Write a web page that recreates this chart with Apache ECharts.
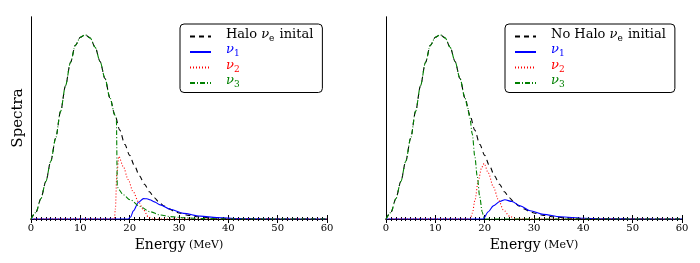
<!DOCTYPE html>
<html><head><meta charset="utf-8">
<script src="https://cdn.jsdelivr.net/npm/echarts@6/dist/echarts.min.js"></script>
<style>html,body{margin:0;padding:0;background:#fff}#c{width:700px;height:263px}</style>
</head><body><div id="c"></div>
<script>
// ---- data ----
const xTicks = [0, 10, 20, 30, 40, 50, 60];

// initial nu_e spectrum (same in both panels)
const initialE = [0,1,2,3,4,5,6,7,8,9,10,11,12,13,14,15,16,17,18,19,20,21,22,23,24,25,26,27,28,29,30,32,34,36,38,40,43,46,50,60];
const initialV = [0,0.033,0.10,0.185,0.285,0.40,0.533,0.66,0.775,0.86,0.90,0.912,0.896,0.85,0.78,0.695,0.60,0.515,0.44,0.37,0.315,0.262,0.213,0.172,0.135,0.105,0.082,0.064,0.05,0.039,0.03,0.018,0.011,0.0065,0.004,0.0022,0.001,0.0003,0,0];

// Halo panel
const haloNu1E = [0,19.7,20.2,20.75,21.8,22.8,23.5,24.1,25,26.2,28.2,30.9,34.3,37.7,42,50,60];
const haloNu1V = [0,0,0.01,0.04,0.083,0.101,0.10,0.095,0.085,0.07,0.048,0.028,0.014,0.007,0.002,0,0];
const haloNu2E = [0,16.9,17.1,17.4,17.8,18.7,19.7,20.7,21.8,22.8,23.8,24.5,60];
const haloNu2V = [0,0,0.05,0.22,0.31,0.26,0.195,0.135,0.085,0.045,0.01,0,0];
const haloNu3E = [0,1,2,3,4,5,6,7,8,9,10,11,12,13,14,15,16,17,17.3,17.5,17.8,18.7,20.1,22.1,24.1,26.2,28.2,31,35,40,60];
const haloNu3V = [0,0.033,0.10,0.185,0.285,0.40,0.533,0.66,0.775,0.86,0.90,0.912,0.896,0.85,0.78,0.695,0.60,0.515,0.50,0.16,0.145,0.12,0.095,0.062,0.036,0.02,0.012,0.006,0.002,0,0];

// No-halo panel
const noHaloNu1E = [0,19.7,20.75,21.75,23.1,24.1,25.5,27.2,29.2,31.9,35.3,40,45,50,60];
const noHaloNu1V = [0,0,0.036,0.065,0.087,0.095,0.087,0.065,0.041,0.023,0.011,0.004,0.001,0,0];
const noHaloNu2E = [0,17.1,17.5,18.05,18.7,19.4,19.9,20.75,21.75,22.8,23.8,25.1,26.3,60];
const noHaloNu2V = [0,0,0.03,0.095,0.19,0.255,0.275,0.227,0.16,0.095,0.045,0.013,0,0];
const noHaloNu3E = [0,1,2,3,4,5,6,7,8,9,10,11,12,13,14,15,16,16.5,17,17.5,18,18.5,19,19.5,19.9,60];
const noHaloNu3V = [0,0.033,0.10,0.185,0.285,0.40,0.533,0.66,0.775,0.86,0.90,0.912,0.896,0.85,0.78,0.695,0.60,0.557,0.50,0.42,0.31,0.21,0.11,0.035,0,0];

const names = {
  halo: 'Halo νe inital',
  noHalo: 'No Halo νe initial',
  n1: 'ν1', n2: 'ν2', n3: 'ν3'
};

// ---- chart ----
const zip = (e, v) => e.map((x, i) => [x, v[i]]);
const FONT = 'DejaVu Serif';
const styles = {
  init: {color: '#000', type: [5, 4]},
  n1: {color: '#0000ff', type: 'solid'},
  n2: {color: '#ff0000', type: [1, 2]},
  n3: {color: '#008000', type: [5, 2, 1, 2]}
};

function mkSeries(name, e, v, st, gi) {
  return {
    type: 'line', name: name, data: zip(e, v),
    xAxisIndex: gi * 2, yAxisIndex: gi * 2,
    symbol: 'none', smooth: 0.3, smoothMonotone: 'x',
    lineStyle: {color: st.color, width: 1.1, type: st.type},
    itemStyle: {color: st.color},
    emphasis: {disabled: true}, animation: false
  };
}

const grids = [
  {left: 31, right: 373, top: 17, bottom: 44},
  {left: 386, right: 18, top: 17, bottom: 44}
];

const xAxes = [], yAxes = [];
grids.forEach((g, gi) => {
  xAxes.push({
    type: 'value', gridIndex: gi, min: 0, max: 60, interval: 10, position: 'bottom',
    axisLine: {show: true, lineStyle: {color: '#000', width: 1}},
    axisTick: {show: true, inside: true, length: 4, lineStyle: {color: '#000'}},
    minorTick: {show: true, splitNumber: 10, length: 2, lineStyle: {color: '#000'}},
    splitLine: {show: false},
    axisLabel: {show: true, color: '#000', fontFamily: FONT, fontSize: 10, margin: 4,
      formatter: v => xTicks.includes(v) ? String(v) : ''},
    name: '{a|Energy} {b|(MeV)}', nameLocation: 'middle', nameGap: 17,
    nameTextStyle: {rich: {
      a: {fontFamily: FONT, fontSize: 14, color: '#000'},
      b: {fontFamily: FONT, fontSize: 11, color: '#000'}
    }}
  });
  xAxes.push({
    type: 'value', gridIndex: gi, min: 0, max: 60, interval: 10, position: 'top',
    axisLine: {show: true, lineStyle: {color: '#000', width: 1}},
    axisTick: {show: true, inside: true, length: 4, lineStyle: {color: '#000'}},
    minorTick: {show: true, splitNumber: 10, length: 2, lineStyle: {color: '#000'}},
    splitLine: {show: false}, axisLabel: {show: false}
  });
  yAxes.push({
    type: 'value', gridIndex: gi, min: 0, max: 1, position: 'left',
    axisLine: {show: true, lineStyle: {color: '#000', width: 1}},
    axisTick: {show: false}, axisLabel: {show: false}, splitLine: {show: false},
    name: gi === 0 ? 'Spectra' : '', nameLocation: 'middle', nameGap: 5,
    nameTextStyle: {fontFamily: FONT, fontSize: 15, color: '#000'}
  });
  yAxes.push({
    type: 'value', gridIndex: gi, min: 0, max: 1, position: 'right',
    axisLine: {show: true, lineStyle: {color: '#000', width: 1}},
    axisTick: {show: false}, axisLabel: {show: false}, splitLine: {show: false}
  });
});

const series = [
  mkSeries(names.halo, initialE, initialV, styles.init, 0),
  mkSeries(names.n1, haloNu1E, haloNu1V, styles.n1, 0),
  mkSeries(names.n2, haloNu2E, haloNu2V, styles.n2, 0),
  mkSeries(names.n3, haloNu3E, haloNu3V, styles.n3, 0),
  mkSeries(names.noHalo, initialE, initialV, styles.init, 1),
  mkSeries(names.n1, noHaloNu1E, noHaloNu1V, styles.n1, 1),
  mkSeries(names.n2, noHaloNu2E, noHaloNu2V, styles.n2, 1),
  mkSeries(names.n3, noHaloNu3E, noHaloNu3V, styles.n3, 1)
];

function main(color, italic) {
  return {fontFamily: FONT, fontSize: 13, fontStyle: italic ? 'italic' : 'normal', color: color,
    lineHeight: 13, padding: [0, 0, 2, 0], verticalAlign: 'bottom'};
}
function sub(color) {
  return {fontFamily: FONT, fontSize: 9, color: color, lineHeight: 9, verticalAlign: 'bottom', padding: [0, 1, 0, 0]};
}
const rich = {
  t: main('#000', false), nk: main('#000', true), sk: sub('#000'),
  nb: main('#0000ff', true), sb: sub('#0000ff'),
  nr: main('#ff0000', true), sr: sub('#ff0000'),
  ng: main('#008000', true), sg: sub('#008000')
};
function fmt(name) {
  if (name === names.halo) return '{t|Halo }{nk|ν}{sk|e}{t| inital}';
  if (name === names.noHalo) return '{t|No Halo }{nk|ν}{sk|e}{t| initial}';
  if (name === names.n1) return '{nb|ν}{sb|1}';
  if (name === names.n2) return '{nr|ν}{sr|2}';
  if (name === names.n3) return '{ng|ν}{sg|3}';
  return name;
}
function mkLegend(first, left) {
  return {
    data: [first, names.n1, names.n2, names.n3],
    orient: 'vertical', left: left, top: 24,
    itemWidth: 21, itemHeight: 12, itemGap: 0.5,
    padding: [4, 9, 3, 9],
    borderColor: '#000', borderWidth: 1, borderRadius: 4, backgroundColor: '#fff',
    selectedMode: false,
    itemStyle: {opacity: 0},
    formatter: fmt,
    textStyle: {rich: rich, padding: [0, 0, 0, 10]}
  };
}

const chart = echarts.init(document.getElementById('c'), null, {renderer: 'canvas'});
chart.setOption({
  animation: false,
  grid: grids,
  xAxis: xAxes,
  yAxis: yAxes,
  legend: [mkLegend(names.halo, 180), mkLegend(names.noHalo, 505)],
  series: series
});
</script>
</body></html>
